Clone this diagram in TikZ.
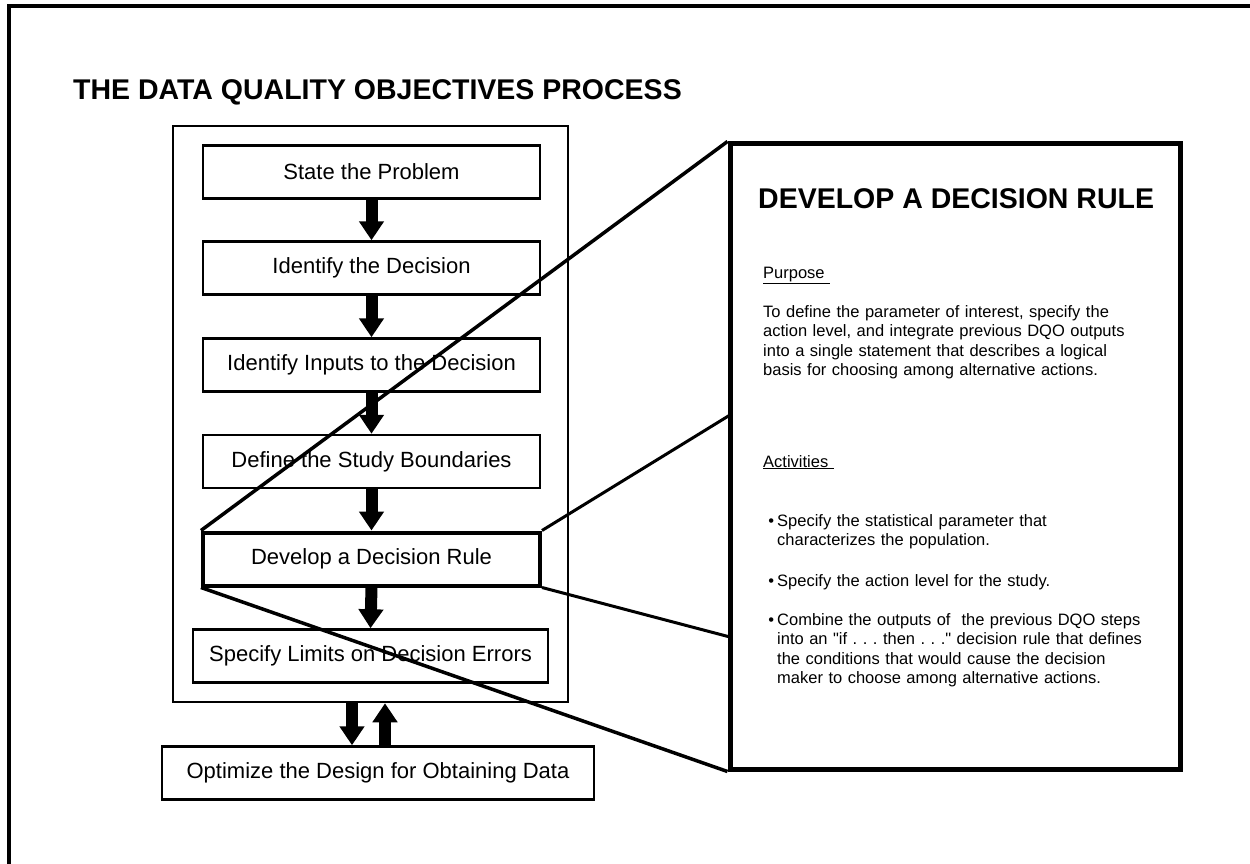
\documentclass[tikz,border=0pt]{standalone}
\usepackage{fontspec}
\setmainfont{Liberation Sans}
\usetikzlibrary{arrows.meta}
\tikzset{
  etape/.style={draw, line width=2.5bp, minimum width=337bp, minimum height=53bp,
    inner sep=0pt, font=\fontsize{22bp}{26bp}\selectfont},
  fleche/.style={line width=12bp, -{Triangle[width=24bp,length=19bp]}},
  loupe/.style={line width=3.5bp},
  texte/.style={anchor=base west, inner sep=0pt, text width=400bp, align=left,
    font=\fontsize{16.5bp}{19.5bp}\selectfont\frenchspacing},
}
\begin{document}
\begin{tikzpicture}[x=1bp,y=-1bp]
	\useasboundingbox (0,0) rectangle (1250,864);
	% le cadre
	\draw[line width=4bp] (9,864) -- (9,6) -- (1250,6);
	\node[anchor=base west, inner sep=0pt, font=\bfseries\fontsize{28.5bp}{34bp}\selectfont] (titre) at (73,99) {THE DATA QUALITY OBJECTIVES PROCESS};
	% les etapes
	\node[draw, line width=2.5bp, minimum width=395bp, minimum height=576bp] (boite) at (370.5,414) {};
	\node[etape] (s1) at (371.5,172) {State the Problem};
	\node[etape] (s2) at (371.5,268) {Identify the Decision};
	\node[etape] (s3) at (371.5,365) {Identify Inputs to the Decision};
	\node[etape] (s4) at (371.5,461.5) {Define the Study Boundaries};
	\node[etape, line width=4bp] (s5) at (371.5,559) {Develop a Decision Rule};
	\node[etape, minimum width=355bp] (s6) at (370.5,656) {Specify Limits on Decision Errors};
	\node[etape, minimum width=432bp] (opt) at (378,773) {Optimize the Design for Obtaining Data};
	% les fleches
	\foreach \a/\b in {s1/s2, s2/s3, s3/s4, s4/s5, s5/s6}
		\draw[fleche] (\a.south) -- (\b.north);
	\draw[fleche] (352,0 |- boite.south) -- (352,0 |- opt.north);
	\draw[fleche] (385,0 |- opt.north) -- (385,0 |- boite.south);
	% le detail de l'etape
	\node[draw, line width=5bp, minimum width=450bp, minimum height=625bp] (detail) at (955,456.5) {};
	\coordinate (zh) at (730,415);
	\coordinate (zb) at (730,637);
	\draw[loupe] (s5.north west) -- (detail.north west);
	\draw[loupe] (s5.south west) -- (detail.south west);
	\draw[line width=3bp] (s5.north east) -- (zh);
	\draw[line width=3bp] (s5.south east) -- (zb);
	\node[anchor=base west, inner sep=0pt, font=\bfseries\fontsize{28.5bp}{34bp}\selectfont] (entete) at (758,208) {DEVELOP A DECISION RULE};
	\node[texte] (but) at (763,278) {\underline{Purpose~}};
	\node[texte] (butx) at (763,317) {To define the parameter of interest, specify the\\
		action level, and integrate previous DQO outputs\\
		into a single statement that describes a logical\\
		basis for choosing among alternative actions.};
	\node[texte] (act) at (763,467) {\underline{Activities~}};
	\node[texte] (a1) at (777,526) {\llap{\textbullet\hspace{3bp}}Specify the statistical parameter that\\
		characterizes the population.};
	\node[texte] (a2) at (777,586) {\llap{\textbullet\hspace{3bp}}Specify the action level for the study.};
	\node[texte] (a3) at (777,625) {\llap{\textbullet\hspace{3bp}}Combine the outputs of~ the previous DQO steps\\
		into an \textquotedbl if . . . then . . .\textquotedbl{} decision rule that defines\\
		the conditions that would cause the decision\\
		maker to choose among alternative actions.};
\end{tikzpicture}
\end{document}
